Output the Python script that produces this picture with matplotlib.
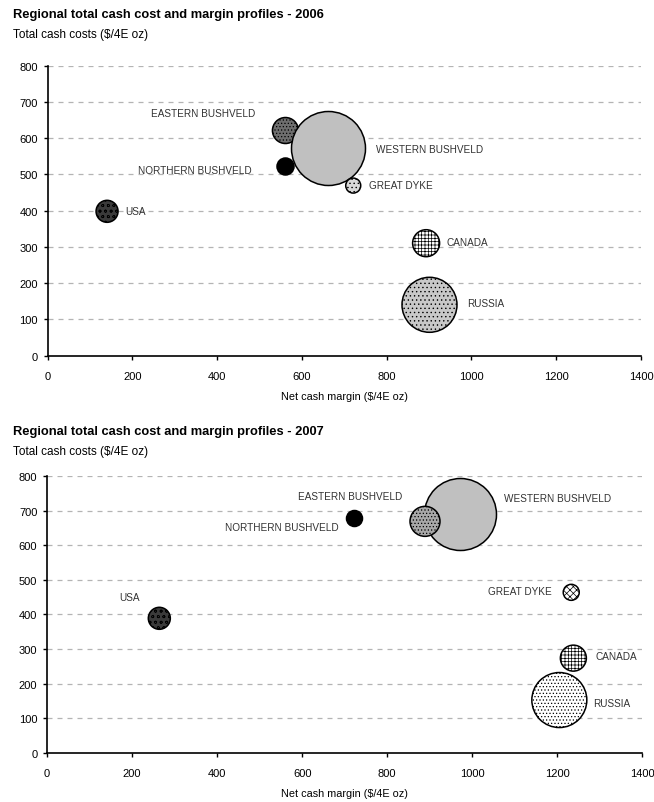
import numpy as np
import matplotlib
matplotlib.use("Agg")
import matplotlib.pyplot as plt

plt.rcParams['font.family'] = ['Liberation Sans', 'DejaVu Sans']
plt.rcParams['hatch.linewidth'] = 0.5

# regions, same order in both years
regions = ['EASTERN BUSHVELD', 'WESTERN BUSHVELD', 'NORTHERN BUSHVELD',
           'GREAT DYKE', 'USA', 'CANADA', 'RUSSIA']

# 2006
margin_06 = [561, 661, 561, 721, 140, 893, 901]
cost_06 = [621, 572, 522, 469, 398, 310, 140]
bubble_06 = [13, 37, 8.5, 7.5, 11, 13.5, 27.5]   # bubble radius (px)

# 2007
margin_07 = [889, 972, 722, 1233, 264, 1238, 1205]
cost_07 = [669, 689, 678, 464, 389, 274, 153]
bubble_07 = [15, 36, 8, 8, 11, 13, 27.5]

xticks = [0, 200, 400, 600, 800, 1000, 1200, 1400]
yticks = [0, 100, 200, 300, 400, 500, 600, 700, 800]

# label anchors (left edge, middle) in data units
lab_06 = [(243, 670), (775, 570), (213, 512), (758, 471), (184, 399), (942, 314), (990, 145)]
lab_07 = [(591, 741), (1075, 735), (419, 652), (1038, 467), (169, 450), (1289, 280), (1285, 144)]

# fill / hatch for each bubble
sty_06 = [('#6e6e6e', '.....'), ('#c0c0c0', None), ('#000000', None), ('#d9d9d9', '....'),
          ('#3a3a3a', 'ooo'), ('#ffffff', '+++++'), ('#c8c8c8', '....')]
sty_07 = [('#a8a8a8', '.....'), ('#c0c0c0', None), ('#000000', None), ('#ffffff', 'xxxxx'),
          ('#3a3a3a', 'ooo'), ('#ffffff', '+++++'), ('#ffffff', '.....')]
order_06 = [0, 2, 1, 3, 4, 5, 6]
order_07 = [1, 0, 2, 3, 4, 5, 6]

fig = plt.figure(figsize=(6.54, 8.03), dpi=100)


def panel(rect, xs, ys, rs, labs, stys, order, year, title_y):
    ax = fig.add_axes(rect)
    for i in order:
        fc, h = stys[i]
        s = (1.44 * rs[i]) ** 2
        ax.scatter([xs[i]], [ys[i]], s=s, facecolor=fc, edgecolor='black',
                   linewidth=1.1, hatch=h, zorder=3)
    for i, (lx, ly) in enumerate(labs):
        ax.text(lx, ly, regions[i], fontsize=7.2, color='#333333',
                ha='left', va='center', zorder=4)
    ax.set_xlim(0, 1400)
    ax.set_ylim(0, 800)
    ax.set_xticks(xticks)
    ax.set_yticks(yticks)
    ax.tick_params(labelsize=8, length=3, width=1, direction='out')
    ax.tick_params(axis='x', pad=8)
    ax.tick_params(axis='y', pad=4)
    for t in yticks[1:]:
        ax.axhline(t, color='#b4b4b4', linestyle=(0, (4, 4)), linewidth=0.9, zorder=1)
    for sp in ['top', 'right']:
        ax.spines[sp].set_visible(False)
    for sp in ['left', 'bottom']:
        ax.spines[sp].set_linewidth(1.2)
    ax.set_xlabel('Net cash margin ($/4E oz)', fontsize=7.8, labelpad=7)
    fig.text(0.02, title_y, 'Regional total cash cost and margin profiles - %d' % year,
             fontsize=9.3, fontweight='bold', va='center')
    fig.text(0.02, title_y - 0.025, 'Total cash costs ($/4E oz)', fontsize=8.5, va='center')
    return ax


panel([0.073, 0.556, 0.907, 0.361], margin_06, cost_06, bubble_06, lab_06, sty_06,
      order_06, 2006, 1 - 15 / 803)
panel([0.072, 0.061, 0.910, 0.345], margin_07, cost_07, bubble_07, lab_07, sty_07,
      order_07, 2007, 1 - 432 / 803)

fig.savefig('out.png', dpi=100)
